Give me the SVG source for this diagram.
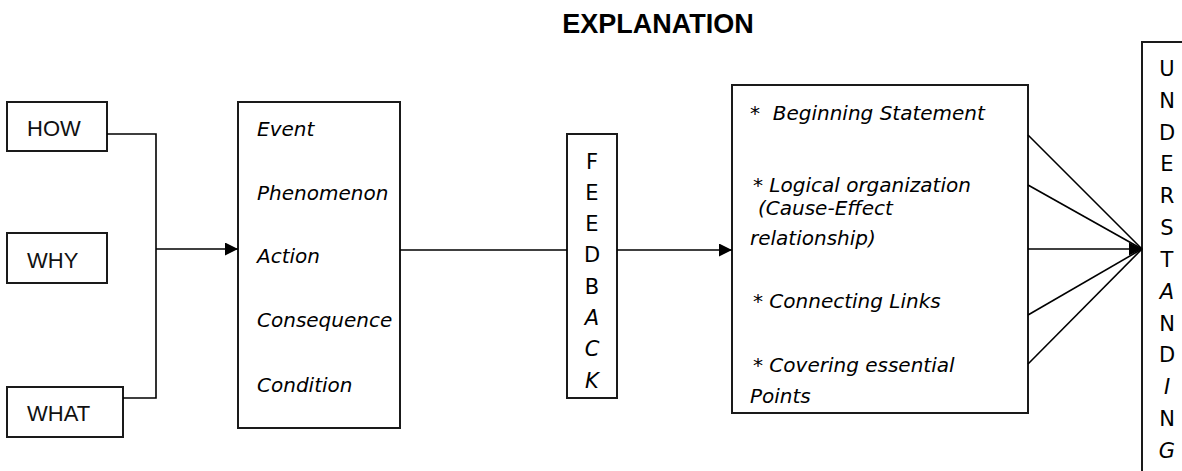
<svg xmlns="http://www.w3.org/2000/svg" width="1182" height="471" viewBox="0 0 1182 471">
  <style>
    .box { fill: #ffffff; stroke: #1a1a1a; stroke-width: 2; }
    .conn { fill: none; stroke: #000000; stroke-width: 1.6; }
    .title { font-family: "Liberation Sans", Arial, sans-serif; font-size: 27px; font-weight: bold; fill: #000; }
    .plain { font-family: "Liberation Sans", Arial, sans-serif; font-size: 22px; fill: #111; }
    .hand { font-family: "Comic Sans MS", "DejaVu Sans", sans-serif; font-style: italic; font-size: 20px; fill: #000; }
    .letter { font-family: "Comic Sans MS", "DejaVu Sans", sans-serif; font-size: 21px; fill: #000; text-anchor: middle; }
    .it { font-style: italic; }
  </style>
  <defs>
    <marker id="arrow" markerUnits="userSpaceOnUse" markerWidth="13" markerHeight="13" refX="13" refY="6.5" orient="auto">
      <path d="M0,0 L13,6.5 L0,13 Z" fill="#000"/>
    </marker>
  </defs>

  <rect width="1182" height="471" fill="#ffffff"/>

  <text class="title" x="658" y="33" text-anchor="middle">EXPLANATION</text>

  <!-- question boxes -->
  <g id="how">
    <rect class="box" x="7" y="102" width="100" height="49"/>
    <text class="plain" x="27" y="136">HOW</text>
  </g>
  <g id="why">
    <rect class="box" x="7" y="233" width="100" height="50"/>
    <text class="plain" x="27" y="268">WHY</text>
  </g>
  <g id="what">
    <rect class="box" x="7" y="387" width="116" height="50"/>
    <text class="plain" x="27" y="421">WHAT</text>
  </g>

  <!-- subjects of explanation -->
  <g id="subjects">
    <rect class="box" x="238" y="102" width="162" height="326"/>
    <text class="hand" x="257" y="136">Event</text>
    <text class="hand" x="257" y="200">Phenomenon</text>
    <text class="hand" x="257" y="263">Action</text>
    <text class="hand" x="257" y="327">Consequence</text>
    <text class="hand" x="257" y="392">Condition</text>
  </g>

  <!-- feedback column -->
  <g id="feedback">
    <rect class="box" x="567" y="134" width="50" height="264"/>
    <text class="letter" x="592" y="169">F</text>
    <text class="letter" x="592" y="200">E</text>
    <text class="letter" x="592" y="231">E</text>
    <text class="letter" x="592" y="262">D</text>
    <text class="letter" x="592" y="294">B</text>
    <text class="letter it" x="592" y="325">A</text>
    <text class="letter it" x="592" y="356">C</text>
    <text class="letter it" x="592" y="388" font-size="17">K</text>
  </g>

  <!-- qualities of a good explanation -->
  <g id="qualities">
    <rect class="box" x="732" y="85" width="296" height="328"/>
    <text class="hand" x="750" y="120">*&#160; Beginning Statement</text>
    <text class="hand" x="753" y="192">* Logical organization</text>
    <text class="hand" x="758" y="215">(Cause-Effect</text>
    <text class="hand" x="750" y="245">relationship)</text>
    <text class="hand" x="753" y="308">* Connecting Links</text>
    <text class="hand" x="753" y="372">* Covering essential</text>
    <text class="hand" x="750" y="403">Points</text>
  </g>

  <!-- understanding column -->
  <g id="understanding">
    <rect class="box" x="1142" y="42" width="50" height="440"/>
    <text class="letter" x="1167" y="76">U</text>
    <text class="letter" x="1167" y="108">N</text>
    <text class="letter" x="1167" y="140">D</text>
    <text class="letter" x="1167" y="171">E</text>
    <text class="letter" x="1167" y="203">R</text>
    <text class="letter" x="1167" y="235">S</text>
    <text class="letter" x="1167" y="267">T</text>
    <text class="letter it" x="1167" y="299">A</text>
    <text class="letter" x="1167" y="331">N</text>
    <text class="letter" x="1167" y="362">D</text>
    <text class="letter it" x="1167" y="394">I</text>
    <text class="letter" x="1167" y="426">N</text>
    <text class="letter it" x="1167" y="458">G</text>
  </g>

  <g id="connectors">
    <!-- HOW and WHAT join a common riser that feeds one arrow -->
    <polyline class="conn" points="107,134 156,134 156,398 123,398"/>
    <line class="conn" x1="156" y1="249" x2="238" y2="249" marker-end="url(#arrow)"/>
    <!-- subjects to feedback, feedback to qualities -->
    <line class="conn" x1="400" y1="250" x2="567" y2="250"/>
    <line class="conn" x1="617" y1="250" x2="732" y2="250" marker-end="url(#arrow)"/>
    <!-- fan into understanding -->
    <line class="conn" x1="1028" y1="135" x2="1142" y2="249"/>
    <line class="conn" x1="1028" y1="185" x2="1142" y2="249"/>
    <line class="conn" x1="1028" y1="249" x2="1142" y2="249" marker-end="url(#arrow)"/>
    <line class="conn" x1="1028" y1="315" x2="1142" y2="249"/>
    <line class="conn" x1="1028" y1="364" x2="1142" y2="249"/>
  </g>
</svg>
